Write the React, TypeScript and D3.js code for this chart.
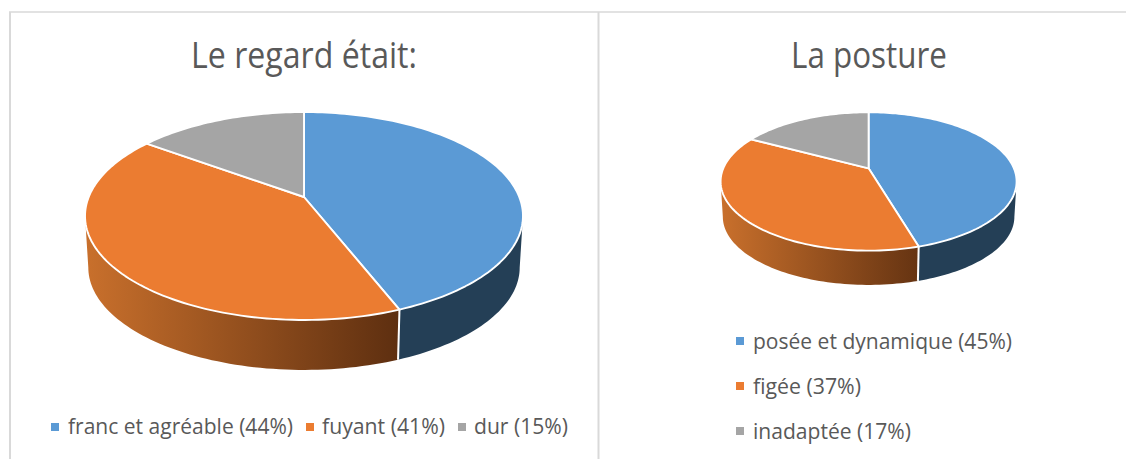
import React from "react";
import * as d3 from "d3";

const regardTitle = "Le regard était:";
const regardLabels = ["franc et agréable (44%)", "fuyant (41%)", "dur (15%)"];
const regardValues = [44, 41, 15];

const postureTitle = "La posture";
const postureLabels = ["posée et dynamique (45%)", "figée (37%)", "inadaptée (17%)"];
const postureValues = [45, 37, 17];

const sliceColors = ["#5b9ad5", "#eb7c31", "#a5a5a5"];
const TEXT = "#595959";
const FONT = "'Open Sans', 'Noto Sans', sans-serif";

type Geo = { cx: number; cy: number; R: number; B: number; k: number; depth: number; shrink: number };

// perspective projection of a flat disc; angle is clockwise from the top
function project(g: Geo, a: number, bottom: boolean): [number, number] {
  const s = bottom ? g.shrink : 1;
  const u = Math.sin(a);
  const v = -Math.cos(a);
  const w = 1 - g.k * v;
  return [g.cx + (s * g.R * u) / w, g.cy + (bottom ? g.depth : 0) + (s * g.B * v) / w];
}

const line = d3.line();

function arcPts(g: Geo, a0: number, a1: number, bottom: boolean) {
  const n = Math.max(2, Math.ceil(Math.abs(a1 - a0) * 40));
  return d3.range(n + 1).map((i) => project(g, a0 + ((a1 - a0) * i) / n, bottom));
}

function Pie3D({ id, g, values, gradStart, gradEnd }: { id: string; g: Geo; values: number[]; gradStart: string; gradEnd: string }) {
  const arcs = d3.pie<number>().sort(null)(values);
  const tangent = Math.PI / 2 + Math.asin(g.k); // angle of the widest point
  const blueEnd = arcs[0].endAngle;
  const leftExtreme = 2 * Math.PI - tangent;
  const wall = (a0: number, a1: number) =>
    line([...arcPts(g, a0, a1, false), ...arcPts(g, a1, a0, true)])! + "Z";
  const gx0 = project(g, leftExtreme, false)[0];
  const gx1 = project(g, blueEnd, true)[0];
  return (
    <g>
      <defs>
        <linearGradient id={id} gradientUnits="userSpaceOnUse" x1={gx0} x2={gx1} y1={0} y2={0}>
          <stop offset="0" stopColor={gradStart} />
          <stop offset="1" stopColor={gradEnd} />
        </linearGradient>
      </defs>
      <path d={wall(tangent, blueEnd)} fill="#243f56" />
      <path d={wall(blueEnd, leftExtreme)} fill={`url(#${id})`} />
      <path
        d={line([project(g, blueEnd, false), project(g, blueEnd, true)])!}
        stroke="#ffffff"
        strokeWidth={2}
        fill="none"
      />
      {arcs.map((d, i) => (
        <path
          key={i}
          d={line([[g.cx, g.cy], ...arcPts(g, d.startAngle, d.endAngle, false)])! + "Z"}
          fill={sliceColors[i]}
          stroke="#ffffff"
          strokeWidth={1.9}
          strokeLinejoin="round"
        />
      ))}
    </g>
  );
}

function Label({ x, y, x2, size, text }: { x: number; y: number; x2: number; size: number; text: string }) {
  return (
    <text x={x} y={y} fontSize={size} fontFamily={FONT} fill={TEXT} textLength={x2 - x} lengthAdjust="spacingAndGlyphs">
      {text}
    </text>
  );
}

const leftGeo: Geo = { cx: 304, cy: 197, R: 215.3, B: 100.5, k: 0.1827, depth: 51.8, shrink: 0.985 };
const rightGeo: Geo = { cx: 868.6, cy: 168.3, R: 145.3, B: 66.7, k: 0.19, depth: 35.5, shrink: 0.985 };

const leftLegendLayout = [
  { sx: 51, tx: 68, tx2: 293 },
  { sx: 306, tx: 322, tx2: 445 },
  { sx: 458, tx: 474, tx2: 568 },
];
const rightLegendEnds = [1012, 861, 911];
const rightLegendY = [348, 393, 438];

export default function App() {
  return (
    <svg
      width={1126}
      height={459}
      viewBox="0 0 1126 459"
      style={{ position: "fixed", left: 0, top: 0, background: "#ffffff", display: "block" }}
    >
      <rect width={1126} height={459} fill="#ffffff" />
      <line x1={9} x2={1126} y1={12} y2={12} stroke="#d9d9d9" strokeWidth={1.5} />
      <line x1={10} x2={10} y1={12} y2={459} stroke="#d9d9d9" strokeWidth={2} />
      <line x1={598.5} x2={598.5} y1={12} y2={459} stroke="#d9d9d9" strokeWidth={2} />

      <Label x={191} x2={417} y={68} size={36} text={regardTitle} />
      <Pie3D id="gl" g={leftGeo} values={regardValues} gradStart="#c9702c" gradEnd="#5e2f10" />
      {regardLabels.map((t, i) => (
        <g key={t}>
          <rect x={leftLegendLayout[i].sx} y={423} width={8} height={8} fill={sliceColors[i]} />
          <Label x={leftLegendLayout[i].tx} x2={leftLegendLayout[i].tx2} y={433.5} size={21} text={t} />
        </g>
      ))}

      <Label x={791} x2={947} y={68} size={36} text={postureTitle} />
      <Pie3D id="gr" g={rightGeo} values={postureValues} gradStart="#c9702c" gradEnd="#663412" />
      {postureLabels.map((t, i) => (
        <g key={t}>
          <rect x={736} y={rightLegendY[i] - 11} width={8} height={8} fill={sliceColors[i]} />
          <Label x={753} x2={rightLegendEnds[i]} y={rightLegendY[i] + 0.5} size={21} text={t} />
        </g>
      ))}
    </svg>
  );
}
